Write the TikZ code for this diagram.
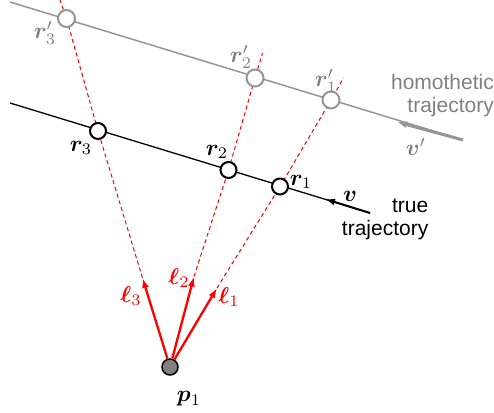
\documentclass[tikz,border=0pt]{standalone}
\usepackage{fontspec}
\setsansfont{Liberation Sans}
\usepackage{bm}
\usepackage{graphicx}
\DeclareMathSizes{10}{10}{7.5}{5}
\usetikzlibrary{arrows.meta,backgrounds,calc}
\definecolor{lgray}{RGB}{150,150,150}
\definecolor{tgray}{RGB}{128,128,128}
\definecolor{pred}{RGB}{255,0,0}
\newcommand{\mbig}[1]{\scalebox{2.3}{$#1$}}
\tikzset{
  truept/.style={circle,draw=black,fill=white,line width=2pt,minimum size=16pt,inner sep=0pt},
  homopt/.style={circle,draw=lgray,fill=white,line width=2pt,minimum size=17pt,inner sep=0pt},
  srcpt/.style={circle,draw=black,fill=tgray,line width=1.5pt,minimum size=16pt,inner sep=0pt},
  mlab/.style={inner sep=0pt,font=\normalsize},
  tlab/.style={inner sep=0pt,font=\fontsize{21}{23}\selectfont\sffamily,align=right},
  ray/.style={draw=pred,dash pattern=on 4pt off 3pt,line width=1pt},
  rayarrow/.style={draw=pred,line width=2.3pt,-{Latex[length=10pt,width=7pt]}},
}
\begin{document}
\begin{tikzpicture}[x=1pt,y=-1pt]
\useasboundingbox (0,0) rectangle (494,412);
% points
\node[srcpt] (p1) at (170,367) {};
\node[truept] (r3) at (98,131) {};
\node[truept] (r2) at (228.5,170) {};
\node[truept] (r1) at (280,186.5) {};
\node[homopt] (r3p) at (66.5,18.5) {};
\node[homopt] (r2p) at (255,78) {};
\node[homopt] (r1p) at (331,100) {};
% free ends
\coordinate (gs) at (10,2);
\coordinate (ge) at (463,140);
\coordinate (ga) at (397,122);
\coordinate (bs) at (10,103);
\coordinate (be) at (370,213);
\coordinate (ba) at (325,199);
\coordinate (e3) at (60,0);
\coordinate (e2) at (262.5,53);
\coordinate (e1) at (343.5,78);
\coordinate (t3) at (142.5,278);
\coordinate (t2) at (194,276.5);
\coordinate (t1) at (217,288);
\begin{scope}[on background layer]
  \draw[lgray,line width=1.5pt] (gs) -- (ge);
  \draw[black,line width=1.3pt] (bs) -- (be);
  \draw[ray] (t3) -- (r3.center) -- (r3p.center) -- (e3);
  \draw[ray] (t2) -- (r2.center) -- (r2p.center) -- (e2);
  \draw[ray] (t1) -- (r1.center) -- (r1p.center) -- (e1);
\end{scope}
\draw[lgray,line width=3pt,-{Latex[length=10pt,width=7pt]}] (ge) -- (ga);
\draw[black,line width=2pt,-{Latex[length=10pt,width=7pt]}] (be) -- (ba);
\draw[rayarrow] (p1) -- (t3);
\draw[rayarrow] (p1) -- (t2);
\draw[rayarrow] (p1) -- (t1);
% labels
\node[mlab,text=tgray] (lr3p) at (45,33) {\mbig{\bm{r}'_3}};
\node[mlab,text=tgray] (lr2p) at (241,57) {\mbig{\bm{r}'_2}};
\node[mlab,text=tgray] (lr1p) at (326,81) {\mbig{\bm{r}'_1}};
\node[mlab,text=tgray] (lvp) at (416,147) {\mbig{\bm{v}'}};
\node[mlab] (lr3) at (81,148) {\mbig{\bm{r}_3}};
\node[mlab] (lr2) at (217,152) {\mbig{\bm{r}_2}};
\node[mlab] (lr1) at (301,182) {\mbig{\bm{r}_1}};
\node[mlab] (lv) at (350,196) {\mbig{\bm{v}}};
\node[mlab,text=pred] (ll3) at (131,296) {\mbig{\bm{\ell}_3}};
\node[mlab,text=pred] (ll2) at (179,278) {\mbig{\bm{\ell}_2}};
\node[mlab,text=pred] (ll1) at (229,297) {\mbig{\bm{\ell}_1}};
\node[mlab] (lp1) at (189,399) {\mbig{\bm{p}_1}};
\node[tlab,text=tgray,anchor=north east] (homo) at (494,74) {homothetic\\trajectory};
\node[tlab,anchor=north east] (true) at (428.5,199) {true\\trajectory};
\end{tikzpicture}
\end{document}
